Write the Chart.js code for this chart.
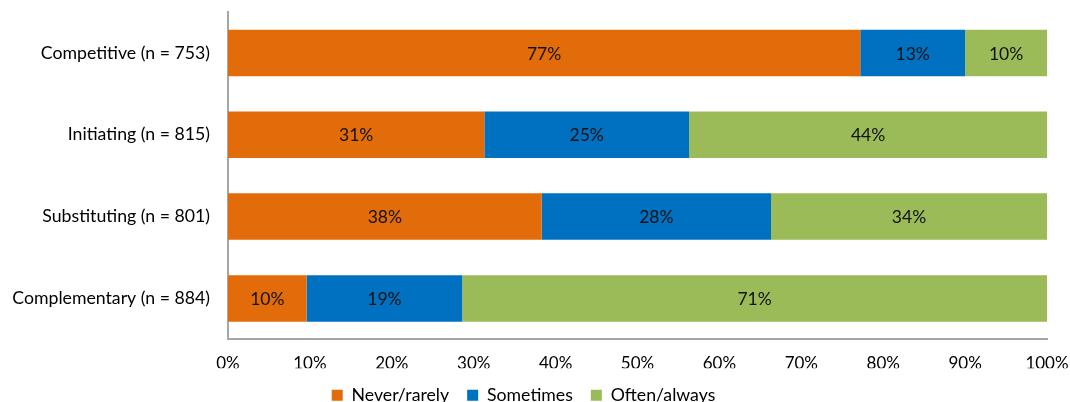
<!DOCTYPE html>
<html>
<head>
<meta charset="utf-8">
<script src="https://cdn.jsdelivr.net/npm/chart.js@4.4.1/dist/chart.umd.min.js"></script>
<style>
  html, body { margin: 0; padding: 0; background: #fff; }
  #wrap { width: 1070px; height: 402px; position: relative; }
</style>
</head>
<body>
<div id="wrap"><canvas id="c"></canvas></div>
<script>
const categories = ['Competitive (n = 753)', 'Initiating (n = 815)', 'Substituting (n = 801)', 'Complementary (n = 884)'];
const seriesNames = ['Never/rarely', 'Sometimes', 'Often/always'];
const neverRarely = [77.2, 31.3, 38.3, 9.6];
const sometimes = [12.8, 25.0, 28.0, 19.0];
const oftenAlways = [10.0, 43.7, 33.7, 71.4];
const xTicks = [0, 10, 20, 30, 40, 50, 60, 70, 80, 90, 100];
const colors = ['#E36C0A', '#0070C0', '#9BBB59'];

const FONT = 'Lato, "Open Sans", sans-serif';

const barLabels = {
  id: 'barLabels',
  afterDatasetsDraw(chart) {
    const ctx = chart.ctx;
    ctx.save();
    ctx.font = '17.5px ' + FONT;
    ctx.fillStyle = '#111';
    ctx.textAlign = 'center';
    ctx.textBaseline = 'middle';
    chart.data.datasets.forEach((ds, i) => {
      const meta = chart.getDatasetMeta(i);
      meta.data.forEach((bar, j) => {
        const v = ds.data[j];
        const cx = (bar.x + bar.base) / 2;
        ctx.fillText(Math.round(v) + '%', cx, bar.y + 1);
      });
    });
    ctx.restore();
  }
};

function zeroPad(scale) {
  scale.paddingTop = 0; scale.paddingBottom = 0;
  scale.paddingLeft = 0; scale.paddingRight = 0;
}

new Chart(document.getElementById('c'), {
  type: 'bar',
  data: {
    labels: categories,
    datasets: [
      { label: seriesNames[0], data: neverRarely, backgroundColor: colors[0] },
      { label: seriesNames[1], data: sometimes, backgroundColor: colors[1] },
      { label: seriesNames[2], data: oftenAlways, backgroundColor: colors[2] }
    ]
  },
  options: {
    indexAxis: 'y',
    responsive: true,
    maintainAspectRatio: false,
    animation: false,
    layout: { padding: { top: 12, right: 23, left: 0, bottom: -12 } },
    datasets: { bar: { categoryPercentage: 1, barPercentage: 0.568 } },
    scales: {
      x: {
        stacked: true,
        min: 0, max: 100,
        afterBuildTicks(scale) { scale.ticks = xTicks.map(v => ({ value: v })); },
        grid: { display: false, drawTicks: false },
        border: { display: true, color: '#A6A6A6', width: 2 },
        ticks: {
          padding: 14,
          color: '#000',
          font: { family: FONT, size: 17 },
          callback: v => v + '%'
        },
        afterFit(scale) { scale.height = 29; zeroPad(scale); }
      },
      y: {
        stacked: true,
        grid: { display: false, drawTicks: false },
        border: { display: true, color: '#A6A6A6', width: 2 },
        ticks: {
          padding: 18,
          color: '#000',
          font: { family: FONT, size: 17.7 }
        },
        afterFit(scale) { scale.width = 228; zeroPad(scale); }
      }
    },
    plugins: {
      legend: {
        position: 'bottom',
        labels: {
          boxWidth: 11, boxHeight: 11,
          padding: 18,
          color: '#000',
          font: { family: FONT, size: 17.7 }
        }
      },
      tooltip: { enabled: false }
    }
  },
  plugins: [barLabels]
});
</script>
</body>
</html>
